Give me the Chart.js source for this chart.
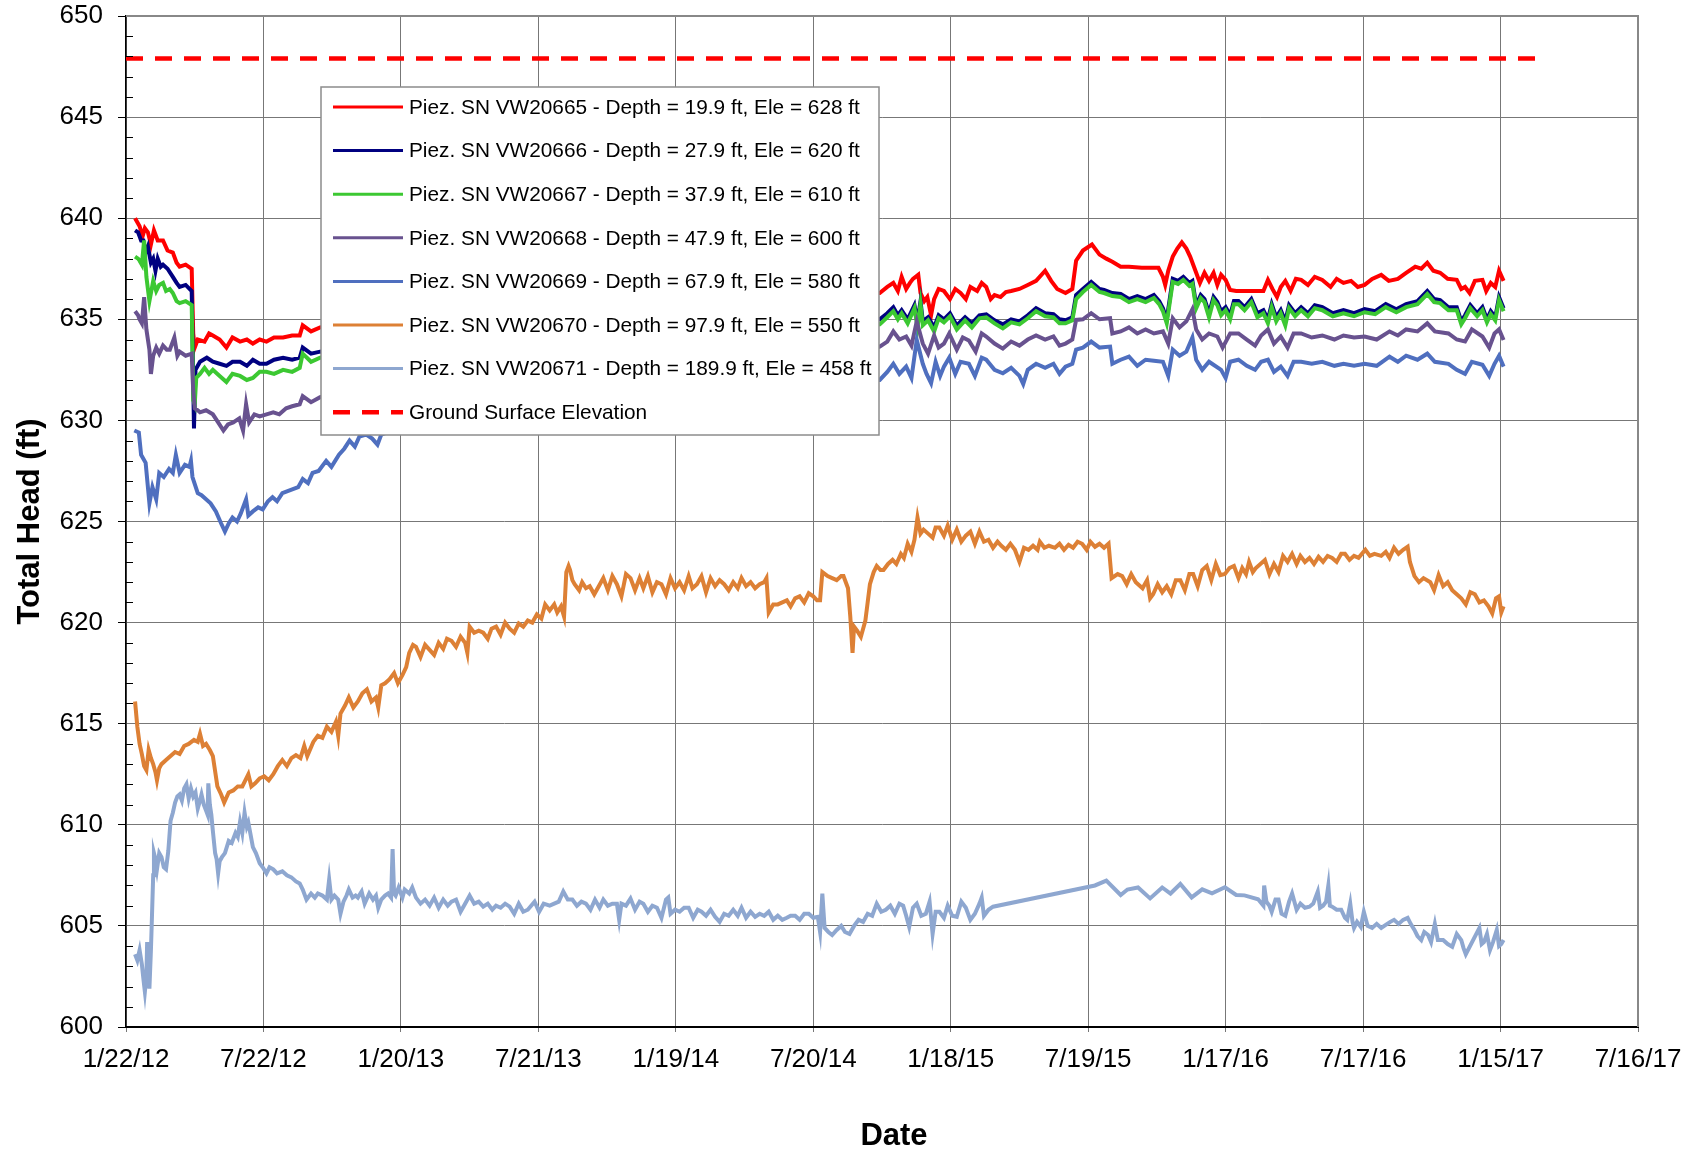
<!DOCTYPE html>
<html>
<head>
<meta charset="utf-8">
<title>Total Head vs Date</title>
<script src="https://cdn.jsdelivr.net/npm/chart.js@4.4.1/dist/chart.umd.min.js"></script>
<style>
  html, body { margin: 0; padding: 0; background: #fff; }
  #wrap { position: relative; width: 1697px; height: 1153px; }
</style>
</head>
<body>
<div id="wrap"><canvas id="myChart"></canvas></div>
<script>
// x values are days after 1/22/12, y values are total head in ft
const startDate = Date.UTC(2012, 0, 22);
const tickStep = 182;
const xMax = 2002;

const labels = [
  'Piez. SN VW20665 - Depth = 19.9 ft, Ele = 628 ft',
  'Piez. SN VW20666 - Depth = 27.9 ft, Ele = 620 ft',
  'Piez. SN VW20667 - Depth = 37.9 ft, Ele = 610 ft',
  'Piez. SN VW20668 - Depth = 47.9 ft, Ele = 600 ft',
  'Piez. SN VW20669 - Depth = 67.9 ft, Ele = 580 ft',
  'Piez. SN VW20670 - Depth = 97.9 ft, Ele = 550 ft',
  'Piez. SN VW20671 - Depth = 189.9 ft, Ele = 458 ft',
  'Ground Surface Elevation'
];

// VW20665
const d65 = [12,15,18,22,25,29,33,37,42,49,55,62,67,71,79,87,89,91,95,104,110,115,124,133,141,151,160,168,177,186,196,208,220,230,234,245,257,
  300,400,500,600,700,800,900,980,
  998,1008,1016,1022,1027,1033,1038,1042,1049,1052,1057,1061,1066,1070,1076,1083,1091,1098,1105,1112,1118,1127,1133,1139,1145,1150,1158,1165,1172,1183,1194,1205,1217,1225,1233,1244,1253,1258,1267,1279,1289,1298,1306,1317,1328,1345,1367,1373,1376,1380,1386,1392,1398,1404,1409,1417,1422,1428,1434,1440,1445,1450,1456,1462,1470,1506,1512,1518,1524,1529,1535,1542,1549,1556,1565,1574,1584,1595,1603,1612,1622,1631,1640,1650,1662,1672,1684,1695,1707,1715,1723,1731,1740,1750,1762,1768,1773,1779,1786,1796,1801,1807,1813,1818,1824];
const h65 = [640.0,639.8,639.6,639.1,639.5,639.3,638.7,639.4,638.9,638.9,638.4,638.3,637.8,637.6,637.7,637.5,634.3,633.6,634.0,633.9,634.3,634.2,634.0,633.6,634.1,633.9,634.0,633.8,634.0,633.9,634.1,634.1,634.2,634.2,634.7,634.4,634.6,
  634.8,635.0,635.4,635.8,636.0,636.2,636.3,636.3,
  636.3,636.6,636.8,636.4,637.1,636.5,636.8,637.0,637.2,636.3,635.9,636.1,635.2,636.0,636.5,636.4,636.0,636.5,636.3,636.0,636.6,636.4,636.8,636.6,636.0,636.2,636.1,636.35,636.4,636.5,636.7,636.9,637.4,636.9,636.5,636.3,636.5,637.9,638.4,638.7,638.2,638.0,637.85,637.6,637.6,637.55,637.55,637.1,636.7,637.4,638.1,638.5,638.8,638.5,638.1,637.3,636.8,637.3,636.9,637.3,636.7,637.2,636.95,636.45,636.4,636.4,636.95,636.5,636.1,636.6,636.9,636.4,637.0,636.95,636.7,637.1,636.95,636.6,637.0,636.8,636.9,636.6,636.7,637.0,637.2,636.9,637.0,637.3,637.6,637.5,637.8,637.4,637.3,637.0,636.95,636.5,636.6,636.3,636.9,636.95,636.4,636.8,636.6,637.4,636.9];

// VW20666
const d66 = [12,16,20,23,26,29,33,36,39,42,46,49,55,62,67,71,79,87,89,90,92,98,107,115,124,133,141,151,160,168,177,186,196,208,220,230,234,245,257,
  300,400,500,600,700,800,900,980,
  998,1008,1016,1022,1027,1035,1044,1048,1052,1055,1062,1070,1076,1083,1091,1100,1111,1120,1130,1139,1150,1161,1172,1183,1194,1205,1217,1228,1236,1244,1253,1258,1267,1278,1289,1295,1306,1317,1328,1339,1350,1361,1368,1373,1378,1386,1393,1400,1408,1412,1417,1423,1428,1434,1440,1445,1450,1456,1462,1467,1473,1481,1490,1498,1506,1512,1517,1523,1529,1535,1540,1548,1556,1565,1574,1584,1598,1612,1626,1640,1654,1668,1682,1695,1710,1723,1732,1740,1751,1762,1768,1773,1780,1789,1796,1802,1807,1813,1818,1824];
const h66 = [639.4,639.3,638.9,638.9,638.3,638.6,637.8,638.0,637.4,638.0,637.6,637.7,637.5,637.1,636.8,636.6,636.7,636.4,632.0,629.6,632.5,632.9,633.1,632.9,632.8,632.7,632.9,632.9,632.7,633.0,632.8,632.8,633.0,633.1,633.0,633.1,633.6,633.3,633.4,
  633.6,633.8,634.2,634.5,634.7,634.8,634.9,634.9,
  635.0,635.3,635.6,635.2,635.45,635.0,635.7,634.9,635.9,634.9,635.1,634.6,635.2,635.0,635.3,634.7,635.1,634.8,635.2,635.25,634.95,634.75,635.0,634.9,635.2,635.55,635.3,635.25,635.0,634.95,635.1,636.2,636.5,636.85,636.5,636.45,636.3,636.25,636.0,636.15,636.0,636.2,635.9,635.55,635.0,637.0,636.9,637.1,636.8,636.9,635.7,636.2,636.0,635.3,636.1,635.85,635.4,635.6,635.2,635.9,635.9,635.6,636.0,635.3,635.45,635.0,635.75,635.1,635.45,634.9,635.7,635.3,635.6,635.3,635.7,635.6,635.3,635.45,635.3,635.5,635.4,635.75,635.5,635.75,635.9,636.4,636.0,635.95,635.6,635.6,634.9,635.2,635.7,635.3,635.6,635.0,635.4,635.1,636.1,635.55];

// VW20667
const d67 = [12,16,18,21,24,27,29,31,33,36,40,44,49,53,58,62,67,71,79,87,88,89,91,93,98,104,110,115,124,133,141,151,160,168,177,186,196,208,220,230,234,245,257,
  300,400,500,600,700,800,900,980,
  998,1008,1016,1022,1027,1035,1044,1048,1052,1055,1062,1070,1076,1083,1091,1100,1111,1120,1130,1139,1150,1161,1172,1183,1194,1205,1217,1228,1236,1244,1253,1258,1267,1278,1289,1295,1306,1317,1328,1339,1350,1361,1368,1373,1378,1386,1393,1400,1408,1412,1417,1423,1428,1434,1440,1445,1450,1456,1462,1467,1473,1481,1490,1498,1506,1512,1517,1523,1529,1535,1540,1548,1556,1565,1574,1584,1598,1612,1626,1640,1654,1668,1682,1695,1710,1723,1732,1740,1751,1762,1768,1773,1780,1789,1796,1802,1807,1813,1818,1824];
const h67 = [638.1,638.0,637.9,637.7,638.9,637.1,636.5,635.9,636.3,636.9,636.4,636.7,636.8,636.4,636.5,636.3,635.9,635.8,635.9,635.7,633.5,631.0,630.8,632.1,632.3,632.6,632.3,632.5,632.2,631.9,632.3,632.2,632.0,632.1,632.4,632.4,632.3,632.5,632.4,632.6,633.3,632.9,633.1,
  633.3,633.6,634.0,634.3,634.5,634.6,634.7,634.7,
  634.75,635.1,635.4,635.0,635.3,634.8,635.55,634.6,635.75,634.7,634.95,634.4,635.05,634.85,635.15,634.5,634.95,634.6,635.05,635.1,634.8,634.55,634.85,634.75,635.05,635.4,635.15,635.1,634.8,634.8,634.95,636.0,636.35,636.7,636.35,636.3,636.15,636.1,635.85,636.0,635.85,636.05,635.75,635.4,634.8,636.85,636.75,636.95,636.65,636.75,635.55,636.05,635.85,635.1,635.95,635.7,635.2,635.45,635.0,635.75,635.75,635.45,635.85,635.1,635.3,634.8,635.6,634.9,635.3,634.7,635.55,635.15,635.45,635.15,635.55,635.45,635.15,635.3,635.15,635.35,635.25,635.6,635.35,635.6,635.75,636.25,635.85,635.8,635.45,635.45,634.75,635.05,635.55,635.15,635.45,634.85,635.25,634.95,635.95,635.4];

// VW20668
const d68 = [12,16,18,21,24,27,31,33,36,40,44,49,54,58,64,68,71,79,87,89,91,95,98,106,115,122,129,135,142,150,155,159,163,170,177,186,195,203,212,220,230,234,245,257,
  300,400,500,600,700,800,900,980,
  998,1008,1016,1024,1033,1040,1047,1055,1062,1070,1076,1083,1090,1100,1108,1116,1125,1133,1139,1150,1161,1172,1183,1194,1205,1217,1228,1236,1244,1253,1258,1267,1278,1289,1303,1306,1317,1328,1339,1350,1361,1373,1380,1386,1395,1404,1412,1417,1425,1434,1445,1452,1462,1473,1484,1495,1503,1512,1520,1529,1538,1546,1556,1570,1584,1600,1612,1626,1640,1656,1673,1684,1695,1710,1723,1733,1751,1762,1773,1782,1796,1805,1812,1818,1824];
const h68 = [635.4,635.2,635.0,634.8,636.1,634.5,633.5,632.3,633.2,633.6,633.3,633.7,633.5,633.5,634.1,633.2,633.4,633.2,633.3,631.5,630.6,630.5,630.4,630.5,630.3,629.9,629.5,629.8,629.9,630.1,629.5,630.8,629.9,630.3,630.2,630.3,630.4,630.3,630.6,630.7,630.8,631.2,630.9,631.15,
  631.5,631.9,632.3,632.7,633.0,633.2,633.4,633.5,
  633.65,633.9,634.4,634.0,634.15,633.7,634.9,633.8,633.3,634.2,633.6,633.8,634.3,633.5,634.1,633.95,633.4,634.3,634.15,633.8,633.55,633.9,633.7,634.0,634.2,634.0,634.15,633.7,633.8,634.0,634.97,635.0,635.3,635.0,635.05,634.3,634.4,634.6,634.3,634.5,634.3,634.4,633.8,635.05,634.6,634.9,635.5,634.5,634.0,634.3,634.15,633.6,634.3,634.3,634.0,633.7,634.2,634.5,633.8,634.15,633.6,634.3,634.3,634.1,634.2,634.0,634.2,634.1,634.15,634.0,634.4,634.2,634.5,634.4,634.8,634.4,634.3,634.0,633.9,634.5,634.15,633.6,634.3,634.5,633.98];

// VW20669
const d69 = [11,17,20,26,31,35,40,44,50,57,62,66,71,78,84,86,88,95,100,106,112,119,126,131,136,141,147,152,159,162,168,175,181,188,194,200,207,214,221,228,234,241,247,255,265,272,282,289,296,303,309,318,326,333,338,
  360,400,500,600,700,800,900,980,
  998,1008,1016,1024,1033,1040,1047,1055,1060,1066,1072,1078,1083,1090,1098,1105,1116,1124,1133,1139,1150,1161,1172,1183,1188,1194,1205,1217,1228,1236,1244,1253,1258,1267,1278,1289,1303,1306,1317,1328,1339,1350,1361,1373,1380,1386,1395,1404,1412,1417,1425,1434,1450,1456,1462,1473,1484,1495,1503,1512,1520,1529,1538,1546,1556,1570,1584,1600,1612,1626,1640,1656,1673,1684,1695,1710,1723,1733,1751,1762,1773,1782,1796,1805,1812,1818,1824];
const h69 = [629.5,629.4,628.3,627.9,625.9,626.7,626.1,627.4,627.2,627.6,627.4,628.3,627.4,627.8,627.7,628.0,627.2,626.4,626.3,626.1,625.9,625.5,624.9,624.5,624.9,625.2,625.0,625.4,626.1,625.3,625.5,625.7,625.6,626.0,626.2,626.0,626.4,626.5,626.6,626.7,627.1,626.9,627.4,627.5,628.0,627.7,628.3,628.6,629.0,628.7,629.2,629.3,629.1,628.8,629.3,
  629.6,630.0,630.6,631.0,631.4,631.7,631.9,632.0,
  632.0,632.4,632.8,632.3,632.66,632.1,633.98,632.8,632.3,631.84,632.9,632.2,632.66,633.1,632.3,632.9,632.8,632.2,633.1,633.0,632.5,632.33,632.6,632.2,631.8,632.5,632.8,632.6,632.8,632.3,632.66,632.8,633.5,633.6,633.9,633.6,633.65,632.8,633.0,633.15,632.7,633.0,632.95,632.9,632.2,633.5,633.2,633.4,634.1,633.0,632.5,632.9,632.5,632.1,632.9,633.0,632.7,632.5,632.9,633.0,632.4,632.66,632.2,632.9,632.9,632.8,632.9,632.7,632.8,632.7,632.8,632.7,633.15,632.9,633.2,633.0,633.3,632.9,632.8,632.5,632.3,632.9,632.75,632.2,632.8,633.2,632.66];

// VW20670
const d70 = [12,15,18,21,24,27,30,33,36,39,41,44,47,53,59,65,71,77,83,90,95,98,102,106,111,115,121,126,130,136,142,148,154,158,162,166,171,177,183,189,195,201,207,213,219,225,231,236,240,248,254,260,266,272,278,281,284,290,295,301,307,313,319,325,331,334,338,343,349,355,360,366,371,375,380,384,390,396,402,408,414,420,425,431,437,443,449,452,455,461,467,473,479,484,490,496,502,508,514,520,526,532,538,544,550,555,561,567,571,576,580,583,586,588,591,594,600,604,609,614,620,626,632,638,644,650,656,662,668,674,680,685,691,697,703,709,715,721,727,733,739,745,750,756,762,768,774,780,786,792,798,804,810,815,821,827,833,839,845,848,851,857,863,869,875,880,886,892,898,904,910,915,919,922,929,935,941,947,950,956,959,962,964,968,973,976,979,982,985,990,994,999,1003,1009,1015,1020,1026,1030,1035,1040,1044,1048,1052,1056,1062,1068,1072,1077,1083,1088,1094,1100,1106,1112,1118,1124,1130,1136,1142,1148,1154,1159,1165,1171,1177,1183,1189,1195,1201,1207,1210,1216,1222,1230,1236,1242,1248,1254,1260,1266,1272,1277,1283,1289,1295,1301,1305,1313,1319,1325,1331,1337,1346,1352,1356,1360,1366,1372,1378,1384,1390,1396,1402,1408,1413,1419,1425,1431,1437,1443,1449,1455,1461,1467,1473,1478,1483,1487,1492,1496,1508,1514,1520,1526,1532,1538,1544,1550,1555,1561,1567,1573,1579,1585,1591,1597,1603,1609,1614,1620,1626,1632,1641,1647,1653,1662,1668,1673,1679,1685,1691,1697,1700,1706,1712,1718,1727,1732,1738,1744,1750,1756,1762,1768,1774,1780,1786,1792,1798,1804,1809,1814,1818,1821,1824];
const h70 = [616.1,614.85,614.0,613.5,612.9,612.7,613.7,613.3,613.0,612.6,612.2,612.8,613.0,613.2,613.4,613.6,613.5,613.9,614.0,614.2,614.1,614.5,613.9,614.0,613.7,613.4,611.9,611.5,611.1,611.6,611.7,611.9,611.9,612.2,612.5,611.9,612.05,612.3,612.4,612.2,612.5,612.9,613.2,612.9,613.3,613.45,613.3,613.9,613.4,614.1,614.4,614.3,614.85,614.6,615.1,614.4,615.5,615.9,616.3,615.8,616.1,616.5,616.7,616.1,616.3,615.8,616.9,617.0,617.2,617.5,617.0,617.4,617.8,618.5,618.9,618.8,618.3,618.9,618.65,618.4,619.0,618.7,619.2,619.1,618.8,619.3,619.0,618.5,619.8,619.5,619.6,619.5,619.2,619.7,619.8,619.4,620.0,619.7,619.5,619.96,619.8,620.1,620.0,620.4,620.2,620.9,620.6,620.9,620.5,620.8,620.3,622.5,622.8,622.6,622.1,621.9,621.6,622.0,621.7,621.8,621.4,621.8,622.2,621.6,622.3,621.9,621.3,622.4,622.2,621.6,622.2,621.7,622.3,621.5,622.0,621.9,621.4,622.2,621.7,622.0,621.6,622.3,621.7,621.9,622.3,621.5,622.2,621.8,622.1,621.9,621.6,622.0,621.7,622.2,621.8,622.0,621.7,621.9,622.0,622.2,620.5,620.9,620.9,621.0,621.1,620.8,621.2,621.3,621.0,621.45,621.3,621.1,621.1,622.5,622.3,622.2,622.1,622.3,622.3,621.7,620.3,618.5,619.8,619.6,619.3,619.7,620.1,621.0,621.9,622.5,622.8,622.6,622.6,622.9,623.1,622.9,623.4,623.2,623.9,623.5,624.1,625.2,624.4,624.6,624.4,624.2,624.7,624.7,624.3,624.8,624.1,624.6,624.0,624.3,624.5,623.9,624.5,624.0,624.1,623.7,624.0,623.8,623.6,623.9,623.6,623.0,623.7,623.6,623.8,623.6,624.0,623.7,623.8,623.7,623.9,623.6,623.85,623.7,624.0,623.9,623.6,624.0,623.75,623.9,623.7,623.9,622.2,622.4,622.3,621.9,622.4,622.0,621.7,622.1,621.2,621.4,621.9,621.5,621.8,621.4,622.1,622.1,621.6,622.4,622.4,621.8,622.6,622.8,622.1,622.9,622.35,622.4,622.7,622.8,622.2,622.7,622.4,623.0,622.5,622.7,623.1,622.4,622.9,622.5,623.3,623.0,623.4,622.9,623.3,623.0,623.2,622.9,623.25,623.0,623.3,623.2,623.0,623.4,623.4,623.1,623.3,623.2,623.6,623.3,623.4,623.3,623.5,623.2,623.7,623.4,623.6,623.75,623.0,622.3,622.0,622.2,622.0,621.6,622.35,621.8,622.0,621.6,621.4,621.2,620.9,621.5,621.4,621.0,621.1,620.8,620.45,621.2,621.3,620.5,620.8];

// VW20671
const d71 = [12,15,18,21,23,25,27,28,30,31,33,34,36,37,39,41,44,47,50,53,56,59,62,65,68,71,74,77,80,83,86,89,92,95,98,100,103,106,108,109,111,113,115,118,120,122,124,127,131,136,140,145,148,151,154,157,160,162,165,168,172,177,181,186,190,195,200,207,213,219,225,230,234,239,245,250,254,260,266,269,272,276,281,284,288,292,295,300,304,307,312,316,322,327,331,334,338,343,347,351,353,355,357,361,366,369,375,379,384,390,396,402,408,414,420,426,431,437,443,449,455,461,467,473,479,485,490,496,502,508,514,520,526,532,541,547,553,561,567,573,579,585,591,597,603,609,615,621,627,632,638,644,650,653,656,662,668,674,680,685,691,697,703,709,715,718,721,727,733,739,745,751,757,762,768,774,780,786,792,798,804,810,815,821,827,833,839,845,851,857,863,869,875,880,886,892,898,904,910,916,919,922,925,930,935,941,947,952,958,964,970,976,982,988,994,1000,1006,1012,1018,1024,1029,1033,1037,1042,1047,1053,1059,1064,1068,1072,1077,1083,1088,1094,1100,1106,1112,1118,1124,1130,1133,1136,1142,1148,
  1283,1298,1317,1326,1340,1356,1372,1383,1396,1411,1425,1438,1455,1470,1481,1499,
  1506,1507,1510,1514,1517,1522,1526,1530,1535,1540,1544,1550,1555,1561,1567,1572,1578,1581,1585,1589,1592,1594,1597,1603,1609,1614,1617,1621,1624,1626,1630,1635,1639,1644,1650,1656,1662,1668,1674,1679,1685,1691,1697,1701,1706,1710,1715,1719,1724,1728,1733,1737,1744,1750,1756,1762,1768,1771,1774,1792,1795,1798,1802,1806,1810,1815,1818,1821,1824];
const h71 = [603.6,603.3,603.8,603.1,602.4,601.74,602.5,604.2,603.0,601.9,603.8,605.0,607.5,608.6,608.3,607.8,608.6,608.4,607.9,607.8,608.7,610.2,610.6,611.1,611.4,611.5,611.2,611.8,612.0,611.3,611.8,611.4,611.6,610.8,611.2,611.5,611.0,610.7,610.5,612.05,611.0,610.5,609.7,608.6,608.3,607.6,608.2,608.4,608.6,609.2,609.1,609.6,609.4,610.15,609.6,610.6,609.9,610.1,609.5,608.9,608.6,608.1,607.9,607.6,607.9,607.8,607.6,607.7,607.5,607.4,607.2,607.1,606.8,606.3,606.6,606.4,606.6,606.5,606.3,607.3,606.3,606.5,606.3,605.6,606.2,606.5,606.8,606.4,606.5,606.4,606.7,606.1,606.6,606.3,606.5,605.9,606.3,606.5,606.6,606.4,608.8,606.6,606.5,606.9,606.4,606.8,606.6,606.9,606.4,606.1,606.3,606.0,606.4,605.9,606.3,606.0,606.2,606.3,605.7,606.1,606.5,606.1,606.2,605.95,606.1,605.8,606.0,605.9,606.1,605.95,605.6,606.1,605.7,605.8,606.2,605.7,606.1,606.0,606.1,606.2,606.7,606.3,606.3,606.0,606.2,606.1,605.8,606.3,605.9,606.3,606.0,606.1,606.1,605.3,606.1,606.0,606.35,605.8,606.2,606.1,605.7,606.0,605.9,605.4,606.3,606.4,605.6,605.8,605.7,605.9,605.9,605.4,605.8,605.7,605.5,605.8,605.45,605.2,605.6,605.5,605.8,605.5,605.9,605.4,605.7,605.45,605.6,605.5,605.7,605.3,605.5,605.3,605.4,605.5,605.5,605.3,605.6,605.6,605.4,605.45,604.7,606.6,604.9,604.7,604.55,604.8,605.0,604.7,604.6,605.0,605.3,605.2,605.6,605.5,606.1,605.7,605.8,606.0,605.6,606.1,606.0,605.5,604.95,605.9,606.1,605.5,605.6,606.2,604.6,605.7,605.7,605.4,606.0,605.5,605.45,606.2,605.9,605.3,605.6,606.1,606.4,605.5,605.8,605.95,
  607.0,607.24,606.53,606.8,606.9,606.36,606.9,606.6,607.07,606.41,606.81,606.61,606.91,606.53,606.51,606.32,
  606.0,607.0,606.2,606.0,605.7,606.3,606.3,605.6,605.5,606.2,606.6,605.8,606.1,605.9,605.95,606.1,606.7,605.9,606.0,606.2,607.0,606.0,605.95,605.8,605.8,605.4,605.3,606.1,605.2,604.9,605.2,604.95,605.7,605.0,604.9,605.1,604.9,605.05,605.2,605.3,605.1,605.3,605.4,605.1,604.8,604.5,604.3,604.7,604.55,604.2,605.1,604.3,604.3,604.1,603.97,604.6,604.3,603.9,603.6,604.9,604.1,604.2,604.6,603.8,604.2,604.8,604.0,604.1,604.3];

// ground surface
const dGround = [0, 1868];
const hGround = [647.9, 647.9];

const yMin = 600, yMax = 650, yStep = 5;

const colors = ['#ff0000', '#000080', '#3cc832', '#68528f', '#4f6fbf', '#dd8035', '#8ea7d0', '#ff0000'];
const allDays = [d65, d66, d67, d68, d69, d70, d71, dGround];
const allHeads = [h65, h66, h67, h68, h69, h70, h71, hGround];

function pts(days, heads) {
  return days.map((d, i) => ({x: d, y: heads[i]}));
}

function fmtDate(v) {
  const dt = new Date(startDate + Math.round(v) * 86400000);
  return (dt.getUTCMonth() + 1) + '/' + dt.getUTCDate() + '/' + String(dt.getUTCFullYear()).slice(2);
}

const FONT = '"Liberation Sans", Arial, sans-serif';
Chart.defaults.font.family = FONT;
Chart.defaults.color = '#000';

const datasets = labels.map((lab, i) => ({
  label: lab,
  data: pts(allDays[i], allHeads[i]),
  borderColor: colors[i],
  backgroundColor: colors[i],
  borderWidth: i === 7 ? 4.5 : 4,
  borderDash: i === 7 ? [17, 12] : [],
  pointRadius: 0,
  tension: 0,
  fill: false,
  order: -i
}));

// legend box inside the plot, minor ticks, frame and the x title
const extras = {
  id: 'extras',
  afterDatasetsDraw(chart) {
    const {ctx, chartArea} = chart;
    const ys = chart.scales.y;
    ctx.save();
    // top/right frame
    ctx.strokeStyle = '#888';
    ctx.lineWidth = 2;
    ctx.beginPath();
    ctx.moveTo(chartArea.left, chartArea.top);
    ctx.lineTo(chartArea.right, chartArea.top);
    ctx.lineTo(chartArea.right, chartArea.bottom);
    ctx.stroke();
    // minor ticks on y axis
    ctx.strokeStyle = '#000';
    ctx.lineWidth = 1;
    for (let v = yMin + 1; v < yMax; v++) {
      if (v % yStep === 0) continue;
      const py = Math.round(ys.getPixelForValue(v)) + 0.5;
      ctx.beginPath();
      ctx.moveTo(chartArea.left, py);
      ctx.lineTo(chartArea.left + 7, py);
      ctx.stroke();
    }
    // legend
    const x0 = chartArea.left + 195, y0 = chartArea.top + 71, w = 558, h = 348;
    ctx.fillStyle = '#fff';
    ctx.fillRect(x0, y0, w, h);
    ctx.strokeStyle = '#8c8c8c';
    ctx.lineWidth = 1.5;
    ctx.strokeRect(x0, y0, w, h);
    ctx.font = '20.8px ' + FONT;
    ctx.textBaseline = 'middle';
    ctx.textAlign = 'left';
    chart.data.datasets.forEach((ds, i) => {
      const y = y0 + 20 + i * 43.6;
      ctx.strokeStyle = ds.borderColor;
      ctx.lineWidth = i === 7 ? 4.5 : 3;
      ctx.setLineDash(ds.borderDash);
      ctx.beginPath();
      ctx.moveTo(x0 + 12, y);
      ctx.lineTo(x0 + 82, y);
      ctx.stroke();
      ctx.setLineDash([]);
      ctx.fillStyle = '#000';
      ctx.fillText(ds.label, x0 + 88, y + 1);
    });
    // x axis title, a bit right of centre as in the original
    ctx.font = 'bold 31px ' + FONT;
    ctx.textAlign = 'center';
    ctx.fillText('Date', (chartArea.left + chartArea.right) / 2 + 12, chart.height - 17);
    ctx.restore();
  }
};

const config = {
  type: 'line',
  data: {datasets: datasets},
  options: {
    animation: false,
    responsive: true,
    maintainAspectRatio: false,
    layout: {padding: {top: 16, right: 59, bottom: 0, left: 0}},
    plugins: {legend: {display: false}, tooltip: {enabled: false}},
    scales: {
      x: {
        type: 'linear',
        min: 0,
        max: xMax,
        afterFit(scale) { scale.height = 126; },
        ticks: {
          stepSize: tickStep,
          autoSkip: false,
          maxRotation: 0,
          padding: 12,
          font: {size: 26},
          callback: (v) => fmtDate(v)
        },
        grid: {color: '#777', lineWidth: 1, tickLength: 5, tickColor: '#777'},
        border: {color: '#000', width: 2}
      },
      y: {
        min: yMin,
        max: yMax,
        afterFit(scale) {
          scale.width = 126;
          scale.paddingTop = 0;
          scale.paddingBottom = 0;
        },
        ticks: {stepSize: yStep, padding: 15, font: {size: 26}},
        grid: {color: '#777', lineWidth: 1, tickLength: 8, tickColor: '#000'},
        border: {color: '#000', width: 1.5},
        title: {
          display: true,
          text: 'Total Head (ft)',
          font: {size: 31, weight: 'bold', lineHeight: 1},
          padding: {top: 15, bottom: 0}
        }
      }
    }
  },
  plugins: [extras]
};

const myChart = new Chart(document.getElementById('myChart'), config);
</script>
</body>
</html>
